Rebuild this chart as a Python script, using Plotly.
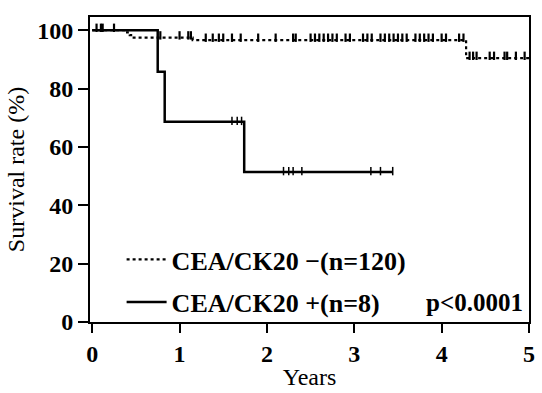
import numpy as np
import plotly.graph_objects as go

# CEA/CK20 negative (n=120) Kaplan-Meier step data
neg_time = [0, 0.40, 0.43, 0.46, 1.15, 4.28, 5.0]
neg_surv = [100, 99.2, 98.3, 97.4, 96.6, 90.4, 90.4]
neg_censor = [0.05, 0.1, 0.12, 0.25, 0.78, 1.0, 1.1, 1.13, 1.3, 1.38, 1.45, 1.5, 1.6, 1.7,
              1.9, 2.1, 2.3, 2.33, 2.5, 2.55, 2.6, 2.65, 2.7, 2.75, 2.8, 2.9, 2.95, 3.1,
              3.15, 3.2, 3.3, 3.35, 3.4, 3.45, 3.5, 3.55, 3.6, 3.7, 3.75, 3.8, 3.85, 3.9,
              4.0, 4.05, 4.2, 4.25, 4.32, 4.36, 4.4, 4.55, 4.6, 4.72, 4.75, 4.85, 4.95]

# CEA/CK20 positive (n=8)
pos_time = [0, 0.75, 0.83, 1.74, 3.44]
pos_surv = [100, 85.7, 68.6, 51.4, 51.4]
pos_censor = [1.6, 1.66, 1.71, 2.19, 2.25, 2.3, 2.4, 3.19, 3.3, 3.44]

x_ticks = [0, 1, 2, 3, 4, 5]
y_ticks = [0, 20, 40, 60, 80, 100]


def step_value(times, surv, t):
    idx = np.searchsorted(np.array(times), t, side="right") - 1
    return np.array(surv)[idx]


SERIF = "Liberation Serif, Times New Roman, serif"

fig = go.Figure()
fig.add_trace(go.Scatter(
    x=neg_time, y=neg_surv, mode="lines", line_shape="hv",
    line=dict(color="black", width=2.2, dash="dot"),
    name="CEA/CK20 \u2212(n=120)", legend="legend"))
fig.add_trace(go.Scatter(
    x=neg_censor, y=step_value(neg_time, neg_surv, neg_censor) + 0.8, mode="markers",
    marker=dict(symbol="line-ns", size=6, line=dict(color="black", width=2.2)),
    showlegend=False, hoverinfo="skip"))
fig.add_trace(go.Scatter(
    x=pos_time, y=pos_surv, mode="lines", line_shape="hv",
    line=dict(color="black", width=2.5),
    name="CEA/CK20 +(n=8)", legend="legend2"))
fig.add_trace(go.Scatter(
    x=pos_censor, y=step_value(pos_time, pos_surv, pos_censor) + 0.3, mode="markers",
    marker=dict(symbol="line-ns", size=6, line=dict(color="black", width=1.5)),
    showlegend=False, hoverinfo="skip"))

legend_style = dict(font=dict(family=SERIF, size=26, color="black", weight="bold"),
                    bgcolor="rgba(0,0,0,0)", xanchor="left", yanchor="middle",
                    itemwidth=40)

fig.update_layout(
    width=542, height=393,
    margin=dict(l=90, r=7, t=17, b=67),
    paper_bgcolor="white", plot_bgcolor="white",
    font=dict(family=SERIF, color="black"),
    legend=dict(x=0.072, y=0.205, **legend_style),
    legend2=dict(x=0.072, y=0.065, **legend_style),
    xaxis=dict(range=[-0.025, 5.0], tickvals=x_ticks, ticks="outside", ticklen=9,
               tickwidth=2, tickcolor="black", showline=True, linewidth=2,
               linecolor="black", mirror=True, showgrid=False, zeroline=False,
               tickfont=dict(family=SERIF, size=24, weight="bold"),
               title=dict(text="Years", font=dict(family=SERIF, size=24), standoff=2)),
    yaxis=dict(range=[0, 104.5], tickvals=y_ticks, ticks="outside", ticklen=10,
               tickwidth=2, tickcolor="black", showline=True, linewidth=2,
               linecolor="black", mirror=True, showgrid=False, zeroline=False,
               tickfont=dict(family=SERIF, size=24, weight="bold"),
               title=dict(text="Survival rate (%)", font=dict(family=SERIF, size=24),
                          standoff=6)),
    annotations=[dict(text="p<0.0001", x=0.99, y=0.065, xref="paper", yref="paper",
                      xanchor="right", yanchor="middle", showarrow=False,
                      font=dict(family=SERIF, size=25, weight="bold"))],
)

fig.write_html("out.html")
